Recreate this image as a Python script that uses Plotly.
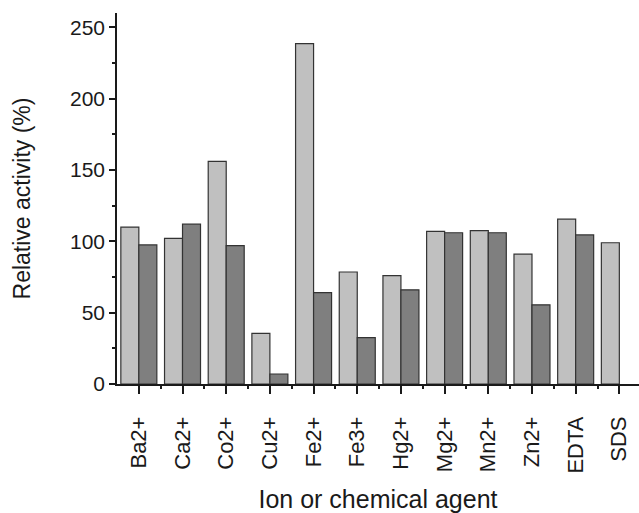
import plotly.graph_objects as go

categories = ["Ba2+", "Ca2+", "Co2+", "Cu2+", "Fe2+", "Fe3+", "Hg2+",
              "Mg2+", "Mn2+", "Zn2+", "EDTA", "SDS"]
series_light = [110, 102, 156, 35.5, 238.5, 78.5, 76, 107, 107.5, 91, 115.5, 99]
series_dark = [97.5, 112, 97, 7, 64, 32.5, 66, 106, 106, 55.5, 104.5, None]
y_ticks = [0, 50, 100, 150, 200, 250]

xpos = list(range(len(categories)))

fig = go.Figure()
fig.add_trace(go.Bar(x=xpos, y=series_light, name="light",
                     marker=dict(color="#c0c0c0", line=dict(color="#333333", width=1.2))))
fig.add_trace(go.Bar(x=xpos, y=series_dark, name="dark",
                     marker=dict(color="#7f7f7f", line=dict(color="#333333", width=1.2))))

font = "Liberation Sans, Arial, sans-serif"
fig.update_layout(
    width=639, height=513,
    margin=dict(l=117, r=0, t=13, b=129),
    paper_bgcolor="white", plot_bgcolor="white",
    barmode="group", bargap=0.176, bargroupgap=0,
    showlegend=False,
    font=dict(family=font, color="#1a1a1a"),
)
fig.update_xaxes(
    range=[-0.5, 11.45],
    tickmode="array", tickvals=xpos, ticktext=categories,
    tickangle=-90, tickfont=dict(size=22), ticklabelstandoff=14,
    ticks="outside", ticklen=8, tickwidth=1.5, tickcolor="#1a1a1a",
    minor=dict(tickmode="array", tickvals=[i + 0.5 for i in xpos[:-1]],
               ticks="outside", ticklen=3, tickwidth=1.5, tickcolor="#1a1a1a"),
    showline=True, linecolor="#1a1a1a", linewidth=1.5,
    showgrid=False, zeroline=False,
    title=dict(text="Ion or chemical agent", font=dict(size=25), standoff=18),
)
fig.update_yaxes(
    range=[0, 260],
    tickmode="array", tickvals=y_ticks, tickfont=dict(size=21),
    ticks="outside", ticklen=6, tickwidth=1.5, tickcolor="#1a1a1a",
    minor=dict(tickmode="array", tickvals=[25, 75, 125, 175, 225],
               ticks="outside", ticklen=3, tickwidth=1.5, tickcolor="#1a1a1a"),
    showline=True, linecolor="#1a1a1a", linewidth=1.5,
    showgrid=False, zeroline=False,
    title=dict(text="Relative activity (%)", font=dict(size=23), standoff=33),
)

fig.write_html("out.html")
